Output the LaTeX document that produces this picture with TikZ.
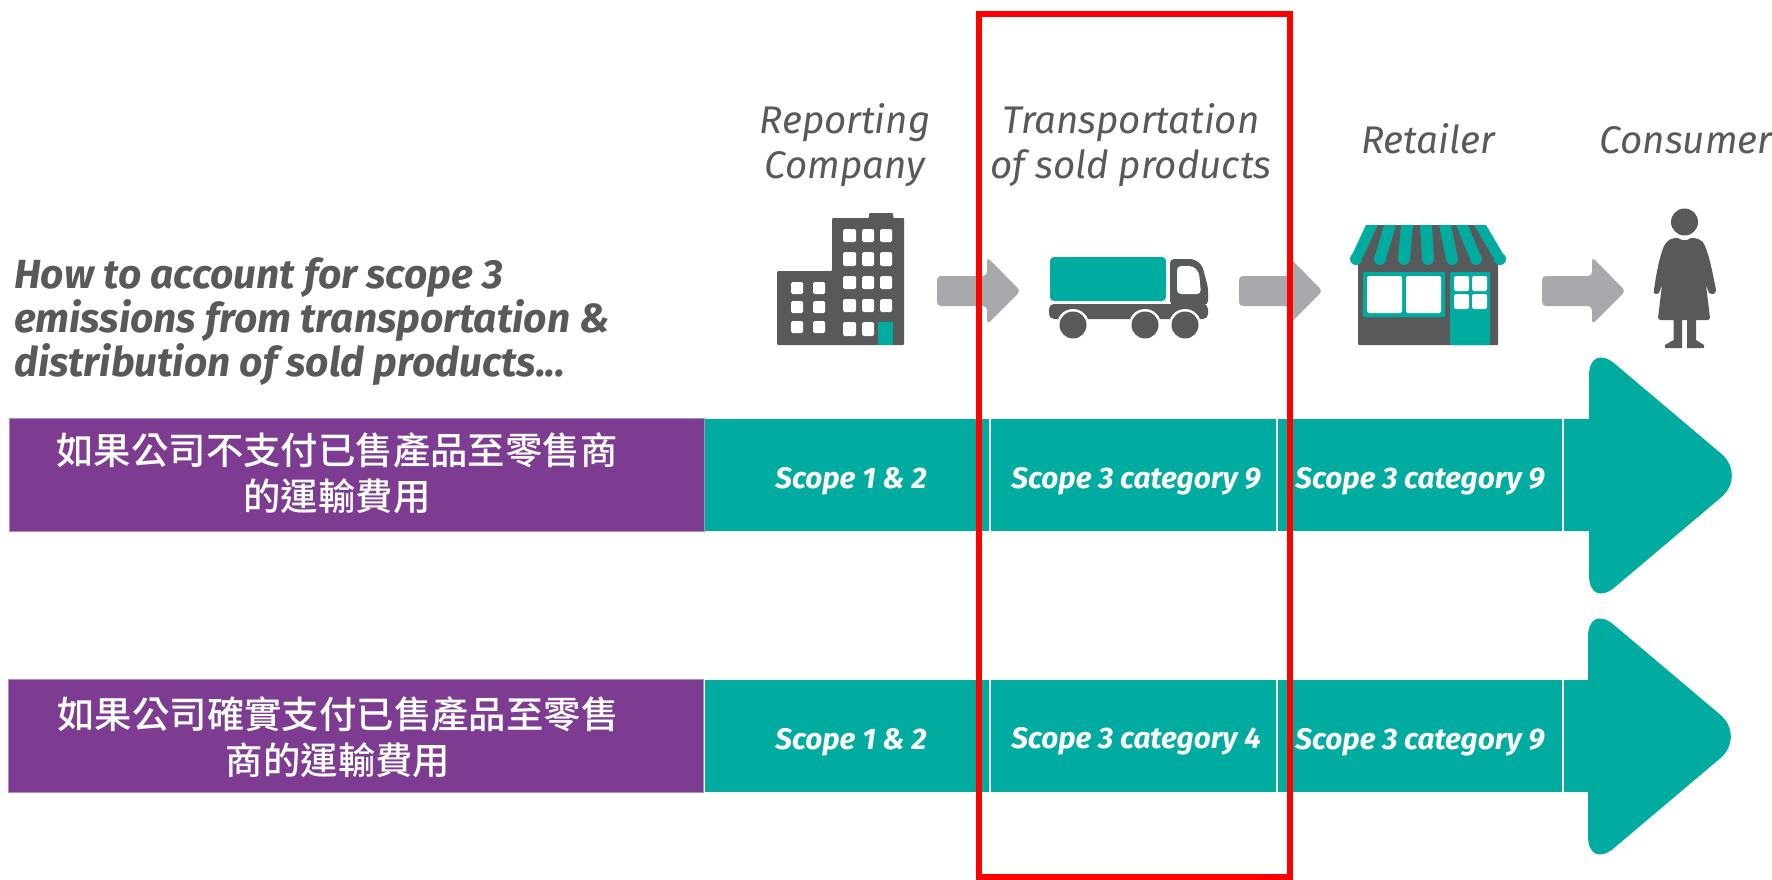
\documentclass[tikz,border=0pt]{standalone}
\usepackage{fontspec}
\setmainfont{Fira Sans}
\newfontfamily\cjk{Noto Sans CJK TC Medium}
\definecolor{teal1}{HTML}{00ABA0}
\definecolor{dark1}{HTML}{58595B}
\definecolor{gray1}{HTML}{A7A9AC}
\definecolor{purp}{HTML}{7D3C92}
\tikzset{
  lbl/.style={text=dark1,font=\fontsize{38.5}{45}\selectfont\itshape,align=center,inner sep=0pt},
  head/.style={text=dark1,font=\fontsize{40.7}{44}\selectfont\bfseries\itshape,align=left,inner sep=0pt,anchor=west},
  purpbox/.style={fill=purp,draw=purp!60!white,line width=1pt,anchor=north west,minimum width=695pt,minimum height=113pt,inner sep=0pt},
  cjktext/.style={text=white,font=\cjk\fontsize{37.4}{46.5}\selectfont,align=center,inner sep=0pt},
  seg/.style={fill=teal1,anchor=north west,minimum height=112pt,inner sep=0pt},
  scopetext/.style={text=white,font=\fontsize{29.7}{30}\selectfont\bfseries\itshape,inner sep=0pt},
  sep/.style={draw=white,line width=1.3pt},
  flow/.style={fill=gray1},
  icon/.style={fill=dark1},
  win/.style={fill=white,rounded corners=1.5pt}
}
\begin{document}
\begin{tikzpicture}[x=1pt,y=-1pt]
\useasboundingbox (0,0) rectangle (1772,880);
\fill[white] (0,0) rectangle (1772,880);
% headings
\node[lbl] (reporting) at (845,145) {Reporting\\Company};
\node[lbl] (transport) at (1131,145) {Transportation\\of sold products};
\node[lbl] (retailer) at (1428,139) {Retailer};
\node[lbl] (consumer) at (1686,140) {Consumer};
\node[head] (title) at (14,322) {How to account for scope 3\\emissions from transportation \&\\distribution of sold products...};
% building
\fill[icon,rounded corners=1pt] (777,345) -- (777,271) -- (832,271) -- (832,218) -- (869,218) -- (869,213) -- (893,213) -- (893,218) -- (904,218) -- (904,345) -- cycle;
\foreach \y/\h in {229/13,252/14,276/13,299/13,322/14}{
  \foreach \x/\w in {843/13,862/12,880/12}{
    \fill[win] (\x,\y) rectangle (\x+\w,\y+\h);
  }
}
\foreach \y in {282,301,321}{
  \foreach \x in {791,813}{
    \fill[win] (\x,\y) rectangle (\x+12,\y+12);
  }
}
\fill[teal1] (878,322) rectangle (893,345);
% flow arrows
\foreach \x in {937,1239,1542}{
  \fill[flow,rounded corners=4pt] (\x,276) -- (\x+50,276) -- (\x+50,257) -- (\x+83.5,291) -- (\x+50,324.5) -- (\x+50,306) -- (\x,306) -- cycle;
}
% truck
\fill[teal1,rounded corners=4pt] (1050,257) rectangle (1166,301);
\fill[icon,rounded corners=4pt] (1170,305) -- (1170,259) -- (1194,259) -- (1202,265) -- (1208,287) -- (1208,305) -- cycle;
\fill[white,rounded corners=4pt] (1177,266) -- (1193,266) -- (1199,272) -- (1201,294) -- (1177,294) -- cycle;
\fill[icon,rounded corners=5pt] (1049,304) -- (1208,304) -- (1208,319) -- (1049,319) -- cycle;
\foreach \x in {1073,1145,1185}{
  \fill[white] (\x,325) circle (16pt);
  \fill[icon] (\x,325) circle (13.5pt);
}
% store
\fill[icon,rounded corners=1pt] (1358,345) -- (1358,262) -- (1366,225) -- (1486,225) -- (1498,262) -- (1498,345) -- cycle;
\foreach \a/\b in {1372/1356,1390/1380,1407/1404,1426/1428,1445/1452,1462/1476,1480/1500}{
  \fill[teal1] (\a-6,225) -- (\a+6,225) -- (\b+6,259) -- (\b-6,259) -- cycle;
  \fill[teal1] (\b,259) circle (6pt);
}
\fill[teal1,rounded corners=1pt] (1363,272) rectangle (1445,317);
\fill[win] (1367,276) rectangle (1402,313);
\fill[win] (1406,276) rectangle (1441,313);
\fill[teal1,rounded corners=1pt] (1450,272) rectangle (1490,345);
\foreach \x in {1454,1472}{
  \foreach \y in {276,294}{
    \fill[win] (\x,\y) rectangle (\x+15,\y+15);
  }
}
% person
\fill[icon] (1684.5,222) circle (13.5pt);
\fill[icon] (1664,246) .. controls (1668,239) and (1672,238) .. (1678,238) .. controls (1682,241) and (1687,241) .. (1691,238) .. controls (1697,238) and (1702,239) .. (1705,246) .. controls (1710,258) and (1713,275) .. (1716,290) .. controls (1716,294) and (1712,295) .. (1709,293) -- (1706,285) -- (1710,318) -- (1708,320) -- (1696,320) -- (1696,340) -- (1704,345) -- (1704,348) -- (1687,348) -- (1687,320) -- (1682,320) -- (1682,348) -- (1665,348) -- (1665,345) -- (1673.5,340) -- (1673.5,320) -- (1660,320) -- (1658,318) -- (1662,285) -- (1659,293) .. controls (1656,295) and (1653,294) .. (1654,290) .. controls (1656,275) and (1659,258) .. (1664,246) -- cycle;
% rows
\foreach \r/\ty/\ax in {a/418.5/1589,b/679.5/1588}{
  \node[seg,minimum width=900pt] (bar\r) at (705,\ty) {};
  \fill[teal1,rounded corners=34pt] (\ax,\ty+57) -- (\ax,\ty-76.5) -- (\ax+158,\ty+57) -- (\ax,\ty+190.5) -- cycle;
  \fill[teal1] (\ax-5,\ty) rectangle (\ax+40,\ty+112);
  \draw[sep] (990,\ty) -- (990,\ty+112);
  \draw[sep] (1277,\ty) -- (1277,\ty+112);
  \draw[sep] (1563,\ty) -- (1563,\ty+112);
}
\node[purpbox] (boxa) at (9,417.5) {};
\node[purpbox] (boxb) at (8,678.5) {};
\node[cjktext] (ca) at (337,473) {如果公司不支付已售產品至零售商\\的運輸費用};
\node[cjktext] (cb) at (338,737) {如果公司確實支付已售產品至零售\\商的運輸費用};
\node[scopetext] (s1) at (851,481) {Scope 1 \& 2};
\node[scopetext] (s2) at (1136,481) {Scope 3 category 9};
\node[scopetext] (s3) at (1420,481) {Scope 3 category 9};
\node[scopetext] (s4) at (851,742) {Scope 1 \& 2};
\node[scopetext] (s5) at (1136,741) {Scope 3 category 4};
\node[scopetext] (s6) at (1420,742) {Scope 3 category 9};
% highlight
\draw[red,line width=6pt] (979,14) rectangle (1290,877);
\end{tikzpicture}
\end{document}
